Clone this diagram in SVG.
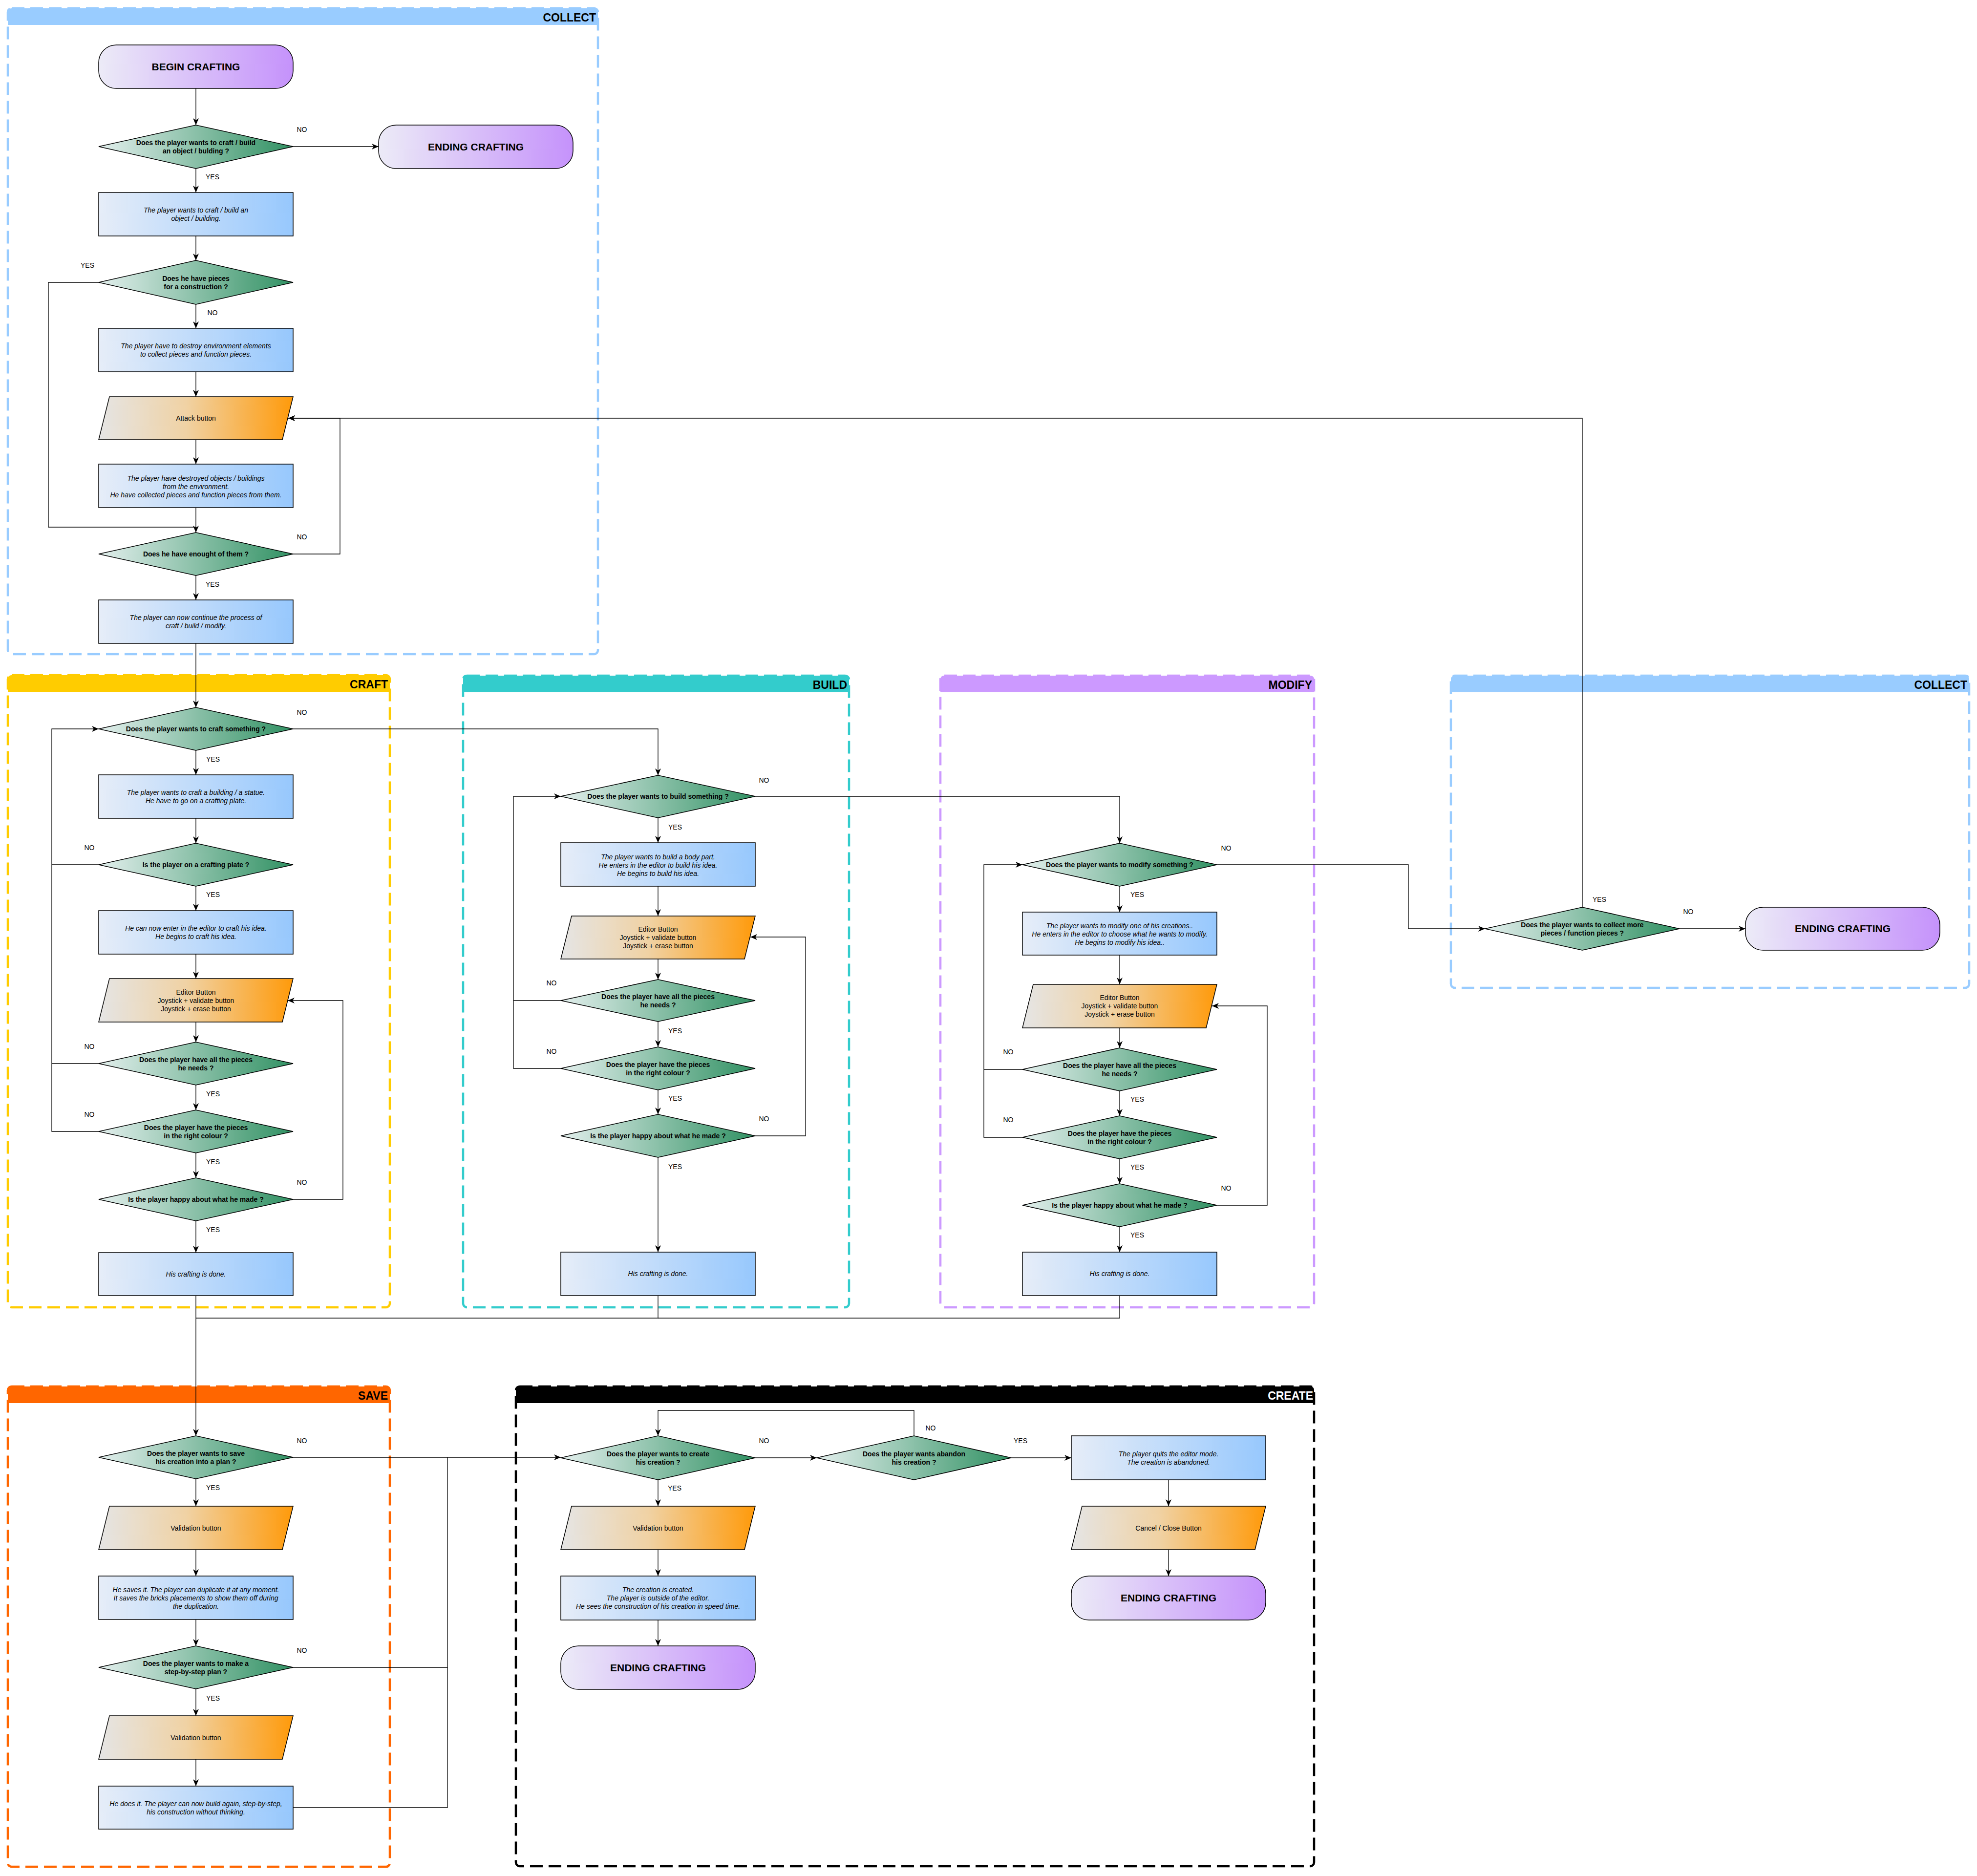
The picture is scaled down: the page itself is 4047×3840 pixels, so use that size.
<svg xmlns="http://www.w3.org/2000/svg" width="4047" height="3840" viewBox="0 0 4047 3840">
<defs>
<linearGradient id="gT" x1="0" y1="0" x2="1" y2="0"><stop offset="0" stop-color="#ecebf7"/><stop offset="1" stop-color="#c592fb"/></linearGradient>
<linearGradient id="gD" x1="0" y1="0" x2="1" y2="0"><stop offset="0" stop-color="#e3efed"/><stop offset="1" stop-color="#319163"/></linearGradient>
<linearGradient id="gR" x1="0" y1="0" x2="1" y2="0"><stop offset="0" stop-color="#e6edf8"/><stop offset="1" stop-color="#97c8fd"/></linearGradient>
<linearGradient id="gP" x1="0" y1="0" x2="1" y2="0"><stop offset="0" stop-color="#e5e5e5"/><stop offset="0.45" stop-color="#f0d2a4"/><stop offset="1" stop-color="#ff9a0a"/></linearGradient>
<marker id="ah" markerUnits="userSpaceOnUse" markerWidth="16" markerHeight="12" refX="14" refY="6" orient="auto"><path d="M0,0 L14,6 L0,12 L4,6 z" fill="#000"/></marker>
<style>
.box{fill:none;stroke-width:4.5;stroke-dasharray:26 12}
.term{fill:url(#gT);stroke:#000;stroke-width:1.5}
.dec{fill:url(#gD);stroke:#000;stroke-width:1.5}
.proc{fill:url(#gR);stroke:#000;stroke-width:1.5}
.io{fill:url(#gP);stroke:#000;stroke-width:1.5}
text{font-family:"Liberation Sans",Arial,sans-serif;font-size:14px;text-anchor:middle;fill:#000}
.b{font-weight:bold}
.i{font-style:italic}
.big{font-size:21px;font-weight:bold}
.hdr{font-size:23px;font-weight:bold;text-anchor:end}
.e{fill:none;stroke:#000;stroke-width:1.3}
.a{marker-end:url(#ah)}
</style>
</defs>
<rect width="4047" height="3840" fill="#fff"/>

<g id="containers">
<g id="lane-collect1">
<path d="M16,51 V25 Q16,17 24,17 H1216 Q1224,17 1224,25 V51 Z" fill="#99ccff"/>
<rect class="box" x="16" y="17" width="1208" height="1322" rx="8" stroke="#99ccff"/>
<text class="hdr" x="1220" y="44">COLLECT</text>
</g>
<g id="lane-craft">
<path d="M16,1416 V1390 Q16,1382 24,1382 H790 Q798,1382 798,1390 V1416 Z" fill="#ffcc00"/>
<rect class="box" x="16" y="1382" width="782" height="1294" rx="8" stroke="#ffcc00"/>
<text class="hdr" x="794" y="1409">CRAFT</text>
</g>
<g id="lane-build">
<path d="M948,1417 V1391 Q948,1383 956,1383 H1730 Q1738,1383 1738,1391 V1417 Z" fill="#33cccc"/>
<rect class="box" x="948" y="1383" width="790" height="1293" rx="8" stroke="#33cccc"/>
<text class="hdr" x="1734" y="1410">BUILD</text>
</g>
<g id="lane-modify">
<path d="M1925,1417 V1391 Q1925,1383 1933,1383 H2682 Q2690,1383 2690,1391 V1417 Z" fill="#cc99ff"/>
<rect class="box" x="1925" y="1383" width="765" height="1293" rx="8" stroke="#cc99ff"/>
<text class="hdr" x="2686" y="1410">MODIFY</text>
</g>
<g id="lane-collect2">
<path d="M2970,1417 V1391 Q2970,1383 2978,1383 H4023 Q4031,1383 4031,1391 V1417 Z" fill="#99ccff"/>
<rect class="box" x="2970" y="1383" width="1061" height="639" rx="8" stroke="#99ccff"/>
<text class="hdr" x="4027" y="1410">COLLECT</text>
</g>
<g id="lane-save">
<path d="M16,2872 V2846 Q16,2838 24,2838 H790 Q798,2838 798,2846 V2872 Z" fill="#ff6600"/>
<rect class="box" x="16" y="2838" width="782" height="983" rx="8" stroke="#ff6600"/>
<text class="hdr" x="794" y="2865">SAVE</text>
</g>
<g id="lane-create">
<path d="M1056,2872 V2846 Q1056,2838 1064,2838 H2682 Q2690,2838 2690,2846 V2872 Z" fill="#000"/>
<rect class="box" x="1056" y="2838" width="1634" height="982" rx="8" stroke="#000"/>
<text class="hdr" x="2688" y="2865" style="fill:#fff">CREATE</text>
</g>
</g>

<g id="connectors">
<!-- collect 1 -->
<path class="e a" d="M401,181 V256"/>
<path class="e a" d="M600,300 H775"/>
<path class="e a" d="M401,345 V394"/>
<path class="e a" d="M401,483 V533"/>
<path class="e" d="M202,578 H99 V1079 H401"/>
<path class="e a" d="M401,623 V672"/>
<path class="e a" d="M401,761 V812"/>
<path class="e a" d="M401,900 V950"/>
<path class="e a" d="M401,1039 V1090"/>
<path class="e a" d="M600,1134 H696 V856 H590"/>
<path class="e a" d="M401,1178 V1228"/>
<path class="e a" d="M401,1317 V1448"/>
<!-- craft -->
<path class="e a" d="M401,1536 V1586"/>
<path class="e a" d="M401,1675 V1726"/>
<path class="e a" d="M401,1814 V1864"/>
<path class="e a" d="M401,1953 V2003"/>
<path class="e a" d="M401,2092 V2133"/>
<path class="e a" d="M401,2221 V2272"/>
<path class="e a" d="M401,2360 V2411"/>
<path class="e a" d="M401,2499 V2564"/>
<path class="e a" d="M202,2316 H106 V1492 H202"/>
<path class="e" d="M202,1770 H106"/>
<path class="e" d="M202,2177 H106"/>
<path class="e a" d="M600,1492 H1347 V1587"/>
<path class="e a" d="M600,2455 H702 V2048 H589"/>
<path class="e a" d="M401,2652 V2939"/>
<path class="e" d="M1347,2652 V2698 H401"/>
<path class="e" d="M2292,2652 V2698 H1347"/>
<!-- build -->
<path class="e a" d="M1347,1674 V1725"/>
<path class="e a" d="M1347,1814 V1875"/>
<path class="e a" d="M1347,1963 V2005"/>
<path class="e a" d="M1347,2091 V2143"/>
<path class="e a" d="M1347,2231 V2281"/>
<path class="e a" d="M1347,2369 V2563"/>
<path class="e a" d="M1148,2187 H1051 V1630 H1148"/>
<path class="e" d="M1148,2048 H1051"/>
<path class="e a" d="M1546,1630 H2292 V1726"/>
<path class="e a" d="M1546,2325 H1649 V1918 H1536"/>
<!-- modify -->
<path class="e a" d="M2292,1814 V1867"/>
<path class="e a" d="M2292,1955 V2015"/>
<path class="e a" d="M2292,2104 V2145"/>
<path class="e a" d="M2292,2233 V2284"/>
<path class="e a" d="M2292,2372 V2423"/>
<path class="e a" d="M2292,2511 V2563"/>
<path class="e a" d="M2093,2328 H2014 V1770 H2093"/>
<path class="e" d="M2093,2189 H2014"/>
<path class="e a" d="M2491,1770 H2883 V1901 H3040"/>
<path class="e a" d="M2491,2467 H2594 V2059 H2481"/>
<!-- collect 2 -->
<path class="e a" d="M3438,1901 H3573"/>
<path class="e a" d="M3239,1857 V856 H590"/>
<!-- save -->
<path class="e a" d="M401,3027 V3083"/>
<path class="e a" d="M401,3172 V3226"/>
<path class="e a" d="M401,3315 V3369"/>
<path class="e a" d="M401,3457 V3512"/>
<path class="e a" d="M401,3601 V3656"/>
<path class="e a" d="M600,2983 H1148"/>
<path class="e" d="M600,3413 H916 V2983"/>
<path class="e" d="M600,3700 H916 V3413"/>
<!-- create -->
<path class="e a" d="M1546,2984 H1672"/>
<path class="e a" d="M1871,2939 V2887 H1347 V2939"/>
<path class="e a" d="M2070,2984 H2193"/>
<path class="e a" d="M2392,3029 V3083"/>
<path class="e a" d="M2392,3172 V3226"/>
<path class="e a" d="M1347,3029 V3083"/>
<path class="e a" d="M1347,3172 V3226"/>
<path class="e a" d="M1347,3316 V3369"/>
</g>

<g id="edge-labels">
<text x="618" y="270">NO</text>
<text x="435" y="367">YES</text>
<text x="179" y="548">YES</text>
<text x="435" y="645">NO</text>
<text x="618" y="1104">NO</text>
<text x="435" y="1201">YES</text>
<text x="618" y="1463">NO</text>
<text x="436" y="1559">YES</text>
<text x="183" y="1740">NO</text>
<text x="436" y="1836">YES</text>
<text x="183" y="2147">NO</text>
<text x="436" y="2244">YES</text>
<text x="183" y="2286">NO</text>
<text x="436" y="2383">YES</text>
<text x="618" y="2425">NO</text>
<text x="436" y="2522">YES</text>
<text x="1564" y="1602">NO</text>
<text x="1382" y="1698">YES</text>
<text x="1129" y="2017">NO</text>
<text x="1382" y="2115">YES</text>
<text x="1129" y="2157">NO</text>
<text x="1382" y="2253">YES</text>
<text x="1564" y="2295">NO</text>
<text x="1382" y="2393">YES</text>
<text x="2510" y="1741">NO</text>
<text x="2328" y="1836">YES</text>
<text x="2064" y="2158">NO</text>
<text x="2328" y="2255">YES</text>
<text x="2064" y="2297">NO</text>
<text x="2328" y="2394">YES</text>
<text x="2510" y="2437">NO</text>
<text x="2328" y="2533">YES</text>
<text x="3274" y="1846">YES</text>
<text x="3456" y="1871">NO</text>
<text x="618" y="2954">NO</text>
<text x="436" y="3050">YES</text>
<text x="618" y="3383">NO</text>
<text x="436" y="3481">YES</text>
<text x="1564" y="2954">NO</text>
<text x="1905" y="2928">NO</text>
<text x="2089" y="2954">YES</text>
<text x="1381" y="3051">YES</text>
</g>

<!-- COLLECT 1 nodes -->
<g id="c1-begin"><rect class="term" x="202" y="92" width="398" height="89" rx="36"/><text class="big" x="401" y="144">BEGIN CRAFTING</text></g>
<g id="c1-d1"><polygon class="dec" points="202,300 401,256 600,300 401,345"/><text class="b" x="401" y="297">Does the player wants to craft / build</text><text class="b" x="401" y="314">an object / bulding ?</text></g>
<g id="c1-end"><rect class="term" x="775" y="256" width="398" height="89" rx="36"/><text class="big" x="974" y="308">ENDING CRAFTING</text></g>
<g id="c1-r1"><rect class="proc" x="202" y="394" width="398" height="89"/><text class="i" x="401" y="435">The player wants to craft / build an</text><text class="i" x="401" y="452">object / building.</text></g>
<g id="c1-d2"><polygon class="dec" points="202,578 401,533 600,578 401,623"/><text class="b" x="401" y="575">Does he have pieces</text><text class="b" x="401" y="592">for a construction ?</text></g>
<g id="c1-r2"><rect class="proc" x="202" y="672" width="398" height="89"/><text class="i" x="401" y="713">The player have to destroy environment elements</text><text class="i" x="401" y="730">to collect pieces and function pieces.</text></g>
<g id="c1-attack"><polygon class="io" points="224,812 600,812 578,900 202,900"/><text x="401" y="861">Attack button</text></g>
<g id="c1-r3"><rect class="proc" x="202" y="950" width="398" height="89"/><text class="i" x="401" y="984">The player have destroyed objects / buildings</text><text class="i" x="401" y="1001">from the environment.</text><text class="i" x="401" y="1018">He have collected pieces and function pieces from them.</text></g>
<g id="c1-d3"><polygon class="dec" points="202,1134 401,1090 600,1134 401,1178"/><text class="b" x="401" y="1139">Does he have enought of them ?</text></g>
<g id="c1-r4"><rect class="proc" x="202" y="1228" width="398" height="89"/><text class="i" x="401" y="1269">The player can now continue the process of</text><text class="i" x="401" y="1286">craft / build / modify.</text></g>

<!-- CRAFT nodes -->
<g id="cr-d1"><polygon class="dec" points="202,1492 401,1448 600,1492 401,1536"/><text class="b" x="401" y="1497">Does the player wants to craft something ?</text></g>
<g id="cr-r1"><rect class="proc" x="202" y="1586" width="398" height="89"/><text class="i" x="401" y="1627">The player wants to craft a building / a statue.</text><text class="i" x="401" y="1644">He have to go on a crafting plate.</text></g>
<g id="cr-d2"><polygon class="dec" points="202,1770 401,1726 600,1770 401,1814"/><text class="b" x="401" y="1775">Is the player on a crafting plate ?</text></g>
<g id="cr-r2"><rect class="proc" x="202" y="1864" width="398" height="89"/><text class="i" x="401" y="1905">He can now enter in the editor to craft his idea.</text><text class="i" x="401" y="1922">He begins to craft his idea.</text></g>
<g id="cr-p1"><polygon class="io" points="224,2003 600,2003 578,2092 202,2092"/><text x="401" y="2036">Editor Button</text><text x="401" y="2053">Joystick + validate button</text><text x="401" y="2070">Joystick + erase button</text></g>
<g id="cr-d3"><polygon class="dec" points="202,2177 401,2133 600,2177 401,2221"/><text class="b" x="401" y="2174">Does the player have all the pieces</text><text class="b" x="401" y="2191">he needs ?</text></g>
<g id="cr-d4"><polygon class="dec" points="202,2316 401,2272 600,2316 401,2360"/><text class="b" x="401" y="2313">Does the player have the pieces</text><text class="b" x="401" y="2330">in the right colour ?</text></g>
<g id="cr-d5"><polygon class="dec" points="202,2455 401,2411 600,2455 401,2499"/><text class="b" x="401" y="2460">Is the player happy about what he made ?</text></g>
<g id="cr-done"><rect class="proc" x="202" y="2564" width="398" height="88"/><text class="i" x="401" y="2613">His crafting is done.</text></g>

<!-- BUILD nodes -->
<g id="bu-d1"><polygon class="dec" points="1148,1630 1347,1587 1546,1630 1347,1674"/><text class="b" x="1347" y="1635">Does the player wants to build something ?</text></g>
<g id="bu-r1"><rect class="proc" x="1148" y="1725" width="398" height="89"/><text class="i" x="1347" y="1759">The player wants to build a body part.</text><text class="i" x="1347" y="1776">He enters in the editor to build his idea.</text><text class="i" x="1347" y="1793">He begins to build his idea.</text></g>
<g id="bu-p1"><polygon class="io" points="1170,1875 1546,1875 1524,1963 1148,1963"/><text x="1347" y="1907">Editor Button</text><text x="1347" y="1924">Joystick + validate button</text><text x="1347" y="1941">Joystick + erase button</text></g>
<g id="bu-d2"><polygon class="dec" points="1148,2048 1347,2005 1546,2048 1347,2091"/><text class="b" x="1347" y="2045">Does the player have all the pieces</text><text class="b" x="1347" y="2062">he needs ?</text></g>
<g id="bu-d3"><polygon class="dec" points="1148,2187 1347,2143 1546,2187 1347,2231"/><text class="b" x="1347" y="2184">Does the player have the pieces</text><text class="b" x="1347" y="2201">in the right colour ?</text></g>
<g id="bu-d4"><polygon class="dec" points="1148,2325 1347,2281 1546,2325 1347,2369"/><text class="b" x="1347" y="2330">Is the player happy about what he made ?</text></g>
<g id="bu-done"><rect class="proc" x="1148" y="2563" width="398" height="89"/><text class="i" x="1347" y="2612">His crafting is done.</text></g>

<!-- MODIFY nodes -->
<g id="mo-d1"><polygon class="dec" points="2093,1770 2292,1726 2491,1770 2292,1814"/><text class="b" x="2292" y="1775">Does the player wants to modify something ?</text></g>
<g id="mo-r1"><rect class="proc" x="2093" y="1867" width="398" height="88"/><text class="i" x="2292" y="1900">The player wants to modify one of his creations..</text><text class="i" x="2292" y="1917">He enters in the editor to choose what he wants to modify.</text><text class="i" x="2292" y="1934">He begins to modify his idea..</text></g>
<g id="mo-p1"><polygon class="io" points="2115,2015 2491,2015 2469,2104 2093,2104"/><text x="2292" y="2047">Editor Button</text><text x="2292" y="2064">Joystick + validate button</text><text x="2292" y="2081">Joystick + erase button</text></g>
<g id="mo-d2"><polygon class="dec" points="2093,2189 2292,2145 2491,2189 2292,2233"/><text class="b" x="2292" y="2186">Does the player have all the pieces</text><text class="b" x="2292" y="2203">he needs ?</text></g>
<g id="mo-d3"><polygon class="dec" points="2093,2328 2292,2284 2491,2328 2292,2372"/><text class="b" x="2292" y="2325">Does the player have the pieces</text><text class="b" x="2292" y="2342">in the right colour ?</text></g>
<g id="mo-d4"><polygon class="dec" points="2093,2467 2292,2423 2491,2467 2292,2511"/><text class="b" x="2292" y="2472">Is the player happy about what he made ?</text></g>
<g id="mo-done"><rect class="proc" x="2093" y="2563" width="398" height="89"/><text class="i" x="2292" y="2612">His crafting is done.</text></g>

<!-- COLLECT 2 nodes -->
<g id="c2-d1"><polygon class="dec" points="3040,1901 3239,1857 3438,1901 3239,1945"/><text class="b" x="3239" y="1898">Does the player wants to collect more</text><text class="b" x="3239" y="1915">pieces / function pieces ?</text></g>
<g id="c2-end"><rect class="term" x="3573" y="1857" width="398" height="88" rx="36"/><text class="big" x="3772" y="1908">ENDING CRAFTING</text></g>

<!-- SAVE nodes -->
<g id="sa-d1"><polygon class="dec" points="202,2983 401,2939 600,2983 401,3027"/><text class="b" x="401" y="2980">Does the player wants to save</text><text class="b" x="401" y="2997">his creation into a plan ?</text></g>
<g id="sa-p1"><polygon class="io" points="224,3083 600,3083 578,3172 202,3172"/><text x="401" y="3133">Validation button</text></g>
<g id="sa-r1"><rect class="proc" x="202" y="3226" width="398" height="89"/><text class="i" x="401" y="3259">He saves it. The player can duplicate it at any moment.</text><text class="i" x="401" y="3276">It saves the bricks placements to show them off during</text><text class="i" x="401" y="3293">the duplication.</text></g>
<g id="sa-d2"><polygon class="dec" points="202,3413 401,3369 600,3413 401,3457"/><text class="b" x="401" y="3410">Does the player wants to make a</text><text class="b" x="401" y="3427">step-by-step plan ?</text></g>
<g id="sa-p2"><polygon class="io" points="224,3512 600,3512 578,3601 202,3601"/><text x="401" y="3562">Validation button</text></g>
<g id="sa-r2"><rect class="proc" x="202" y="3656" width="398" height="88"/><text class="i" x="401" y="3697">He does it. The player can now build again, step-by-step,</text><text class="i" x="401" y="3714">his construction without thinking.</text></g>

<!-- CREATE nodes -->
<g id="cre-d1"><polygon class="dec" points="1148,2984 1347,2939 1546,2984 1347,3029"/><text class="b" x="1347" y="2981">Does the player wants to create</text><text class="b" x="1347" y="2998">his creation ?</text></g>
<g id="cre-d2"><polygon class="dec" points="1672,2984 1871,2939 2070,2984 1871,3029"/><text class="b" x="1871" y="2981">Does the player wants abandon</text><text class="b" x="1871" y="2998">his creation ?</text></g>
<g id="cre-quit"><rect class="proc" x="2193" y="2939" width="398" height="90"/><text class="i" x="2392" y="2981">The player quits the editor mode.</text><text class="i" x="2392" y="2998">The creation is abandoned.</text></g>
<g id="cre-cancel"><polygon class="io" points="2215,3083 2591,3083 2569,3172 2193,3172"/><text x="2392" y="3133">Cancel / Close Button</text></g>
<g id="cre-end2"><rect class="term" x="2193" y="3226" width="398" height="90" rx="36"/><text class="big" x="2392" y="3278">ENDING CRAFTING</text></g>
<g id="cre-valid"><polygon class="io" points="1170,3083 1546,3083 1524,3172 1148,3172"/><text x="1347" y="3133">Validation button</text></g>
<g id="cre-created"><rect class="proc" x="1148" y="3226" width="398" height="90"/><text class="i" x="1347" y="3259">The creation is created.</text><text class="i" x="1347" y="3276">The player is outside of the editor.</text><text class="i" x="1347" y="3293">He sees the construction of his creation in speed time.</text></g>
<g id="cre-end1"><rect class="term" x="1148" y="3369" width="398" height="89" rx="36"/><text class="big" x="1347" y="3421">ENDING CRAFTING</text></g>
</svg>
